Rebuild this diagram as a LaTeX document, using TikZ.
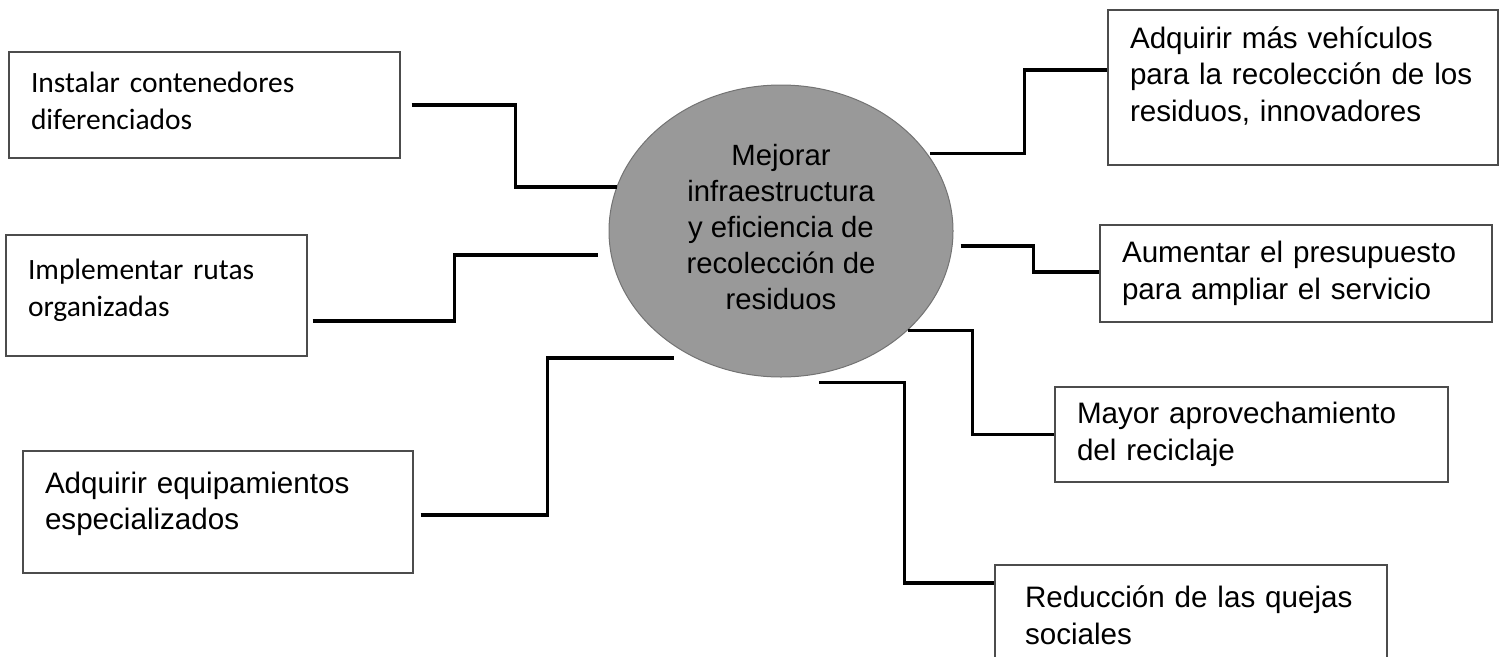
\documentclass[tikz,border=0pt]{standalone}
\usepackage{fontspec}
\setmainfont{Liberation Sans}
\newfontfamily\calibrifont{Carlito}
\usetikzlibrary{shapes.geometric}

% Extra depth under the last line, to lift the text inside its box.
\newcommand{\padlow}[1]{\rule[-#1]{0pt}{#1}}

\tikzset{
    goal/.style={draw=black!70, line width=1.1pt, align=left, inner xsep=22pt, inner ysep=0pt,
        font=\fontsize{29.6}{36.5}\selectfont},
    calibri/.style={font=\calibrifont\fontsize{29.5}{37}\selectfont},
    hub/.style={ellipse, draw=black!55, line width=1pt, fill=black!40, inner sep=0pt,
        minimum width=344pt, minimum height=292pt, align=center,
        font=\fontsize{29.3}{36}\selectfont},
    link/.style={line width=3.3pt, line join=miter}
}

\begin{document}
\begin{tikzpicture}[x=1pt, y=-1pt]
        \useasboundingbox (0,0) rectangle (1507,656);
        % Central goal.
        \node[hub] (hub) at (781,231) {Mejorar\\infraestructura\\y eficiencia de\\recolección de\\residuos\padlow{8pt}};

        % Actions on the left.
        \node[goal, calibri, text width=347pt, minimum height=106pt] (inst) at (204.5,105) {Instalar contenedores\\diferenciados\padlow{8pt}};
        \node[goal, calibri, text width=257pt, minimum height=121pt] (impl) at (156.5,295.5) {Implementar rutas\\organizadas\padlow{16pt}};
        \node[goal, text width=346pt, minimum height=122pt] (equip) at (218,512) {Adquirir equipamientos\\especializados\padlow{22pt}};

        % Actions and results on the right.
        \node[goal, text width=346pt, minimum height=155pt] (mas) at (1303,87.5) {Adquirir más vehículos\\para la recolección de los\\residuos, innovadores\padlow{27pt}};
        \node[goal, text width=348pt, minimum height=97pt] (aum) at (1296,273.5) {Aumentar el presupuesto\\para ampliar el servicio};
        \node[goal, text width=349pt, minimum height=95pt] (may) at (1251.5,434.5) {Mayor aprovechamiento\\del reciclaje};
        \node[goal, inner xsep=30pt, text width=332pt, minimum height=100pt] (red) at (1191,615) {Reducción de las quejas\\sociales};

        % Stepped connectors.
        \draw[link] ([xshift=11pt]inst.east) -| ([xshift=-101pt]hub.165) -- (hub.165);
        \draw[link] ([xshift=5pt,yshift=-25.5pt]impl.east) -| ([xshift=-156pt]hub.188) -- ([xshift=-13pt]hub.188);
        \draw[link] ([xshift=7pt,yshift=-3pt]equip.east) -| ([xshift=-148pt]hub.236) -- ([xshift=-21pt]hub.236);
        \draw[link] ([xshift=3pt]hub.28) -| ([xshift=-83pt,yshift=17.5pt]mas.west) -- ([yshift=17.5pt]mas.west);
        \draw[link] ([xshift=8pt]hub.355) -| ([xshift=-66pt,yshift=1.5pt]aum.west) -- ([yshift=1.5pt]aum.west);
        \draw[link] (hub.322) -| ([xshift=-82pt]may.west) -- (may.west);
        \draw[link] ([yshift=-9pt]hub.285) -| ([xshift=-90pt,yshift=32pt]red.west) -- ([yshift=32pt]red.west);
    \end{tikzpicture}
\end{document}
